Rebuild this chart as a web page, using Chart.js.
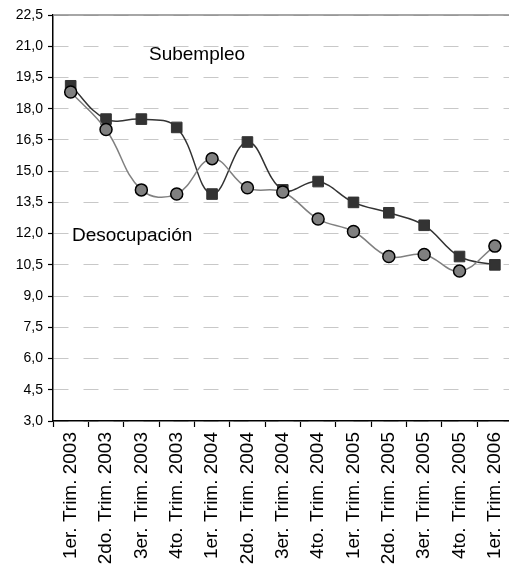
<!DOCTYPE html>
<html lang="es">
<head>
  <meta charset="UTF-8" />
  <title>Subempleo y Desocupación</title>
  <script src="https://cdn.jsdelivr.net/npm/chart.js"></script>
  <style>
    html, body { margin: 0; padding: 0; overflow: hidden; background: #fff; }
    .chart-container { position: relative; width: 523px; height: 573px; }
  </style>
</head>
<body>
  <div class="chart-container">
    <canvas id="empleoChart"></canvas>
  </div>

  <script>
    // datos
    const trimestres = [
      '1er. Trim. 2003', '2do. Trim. 2003', '3er. Trim. 2003', '4to. Trim. 2003',
      '1er. Trim. 2004', '2do. Trim. 2004', '3er. Trim. 2004', '4to. Trim. 2004',
      '1er. Trim. 2005', '2do. Trim. 2005', '3er. Trim. 2005', '4to. Trim. 2005',
      '1er. Trim. 2006'
    ];
    const subempleo = [19.1, 17.5, 17.5, 17.1, 13.9, 16.4, 14.1, 14.5, 13.5, 13.0, 12.4, 10.9, 10.5];
    const desocupacion = [18.8, 17.0, 14.1, 13.9, 15.6, 14.2, 14.0, 12.7, 12.1, 10.9, 11.0, 10.2, 11.4];
    const yTicks = [3.0, 4.5, 6.0, 7.5, 9.0, 10.5, 12.0, 13.5, 15.0, 16.5, 18.0, 19.5, 21.0, 22.5];

    // textos dentro del gráfico y borde superior
    const textosPlugin = {
      id: 'textos',
      afterDraw(chart) {
        const { ctx, chartArea } = chart;
        ctx.save();
        ctx.strokeStyle = '#888';
        ctx.lineWidth = 1.5;
        ctx.beginPath();
        ctx.moveTo(chartArea.left, chartArea.top);
        ctx.lineTo(chartArea.right, chartArea.top);
        ctx.stroke();

        ctx.fillStyle = '#000';
        ctx.font = '19px "Liberation Sans", Arial, sans-serif';
        ctx.textBaseline = 'alphabetic';
        ctx.textAlign = 'left';
        ctx.fillText('Subempleo', chartArea.left + 96, chartArea.top + 45);
        ctx.fillText('Desocupación', chartArea.left + 19, chartArea.top + 226);
        ctx.restore();
      }
    };

    const ctx = document.getElementById('empleoChart').getContext('2d');
    new Chart(ctx, {
      type: 'line',
      data: {
        labels: trimestres,
        datasets: [
          {
            label: 'Desocupación',
            data: desocupacion,
            borderColor: '#808080',
            borderWidth: 1.5,
            backgroundColor: '#808080',
            pointStyle: 'circle',
            pointRadius: 6,
            pointBorderWidth: 1.5,
            pointBorderColor: '#000',
            pointBackgroundColor: '#808080',
            tension: 0.4,
            fill: false
          },
          {
            label: 'Subempleo',
            data: subempleo,
            borderColor: '#333',
            borderWidth: 1.5,
            backgroundColor: '#333',
            pointStyle: 'rect',
            pointRadius: 7.5,
            pointBorderWidth: 1,
            pointBorderColor: '#333',
            pointBackgroundColor: '#333',
            tension: 0.4,
            fill: false
          }
        ]
      },
      options: {
        responsive: true,
        maintainAspectRatio: false,
        animation: false,
        layout: { padding: { top: 15, left: 0, right: 0, bottom: 0 } },
        plugins: {
          legend: { display: false },
          tooltip: { enabled: false }
        },
        scales: {
          x: {
            offset: true,
            grid: {
              offset: true,
              drawOnChartArea: false,
              drawTicks: true,
              tickLength: 6,
              tickColor: '#000',
              tickWidth: 1.2
            },
            border: { color: '#000', width: 1.5 },
            ticks: {
              autoSkip: false,
              maxRotation: 90,
              minRotation: 90,
              padding: 5,
              color: '#000',
              font: { family: '"Liberation Sans", Arial, sans-serif', size: 19 }
            },
            afterFit(scale) { scale.height = 152; }
          },
          y: {
            min: 3,
            max: 22.5,
            afterBuildTicks(scale) {
              scale.ticks = yTicks.map(v => ({ value: v }));
            },
            grid: {
              color: '#c8c8c8',
              lineWidth: 1,
              drawTicks: true,
              tickLength: 5,
              tickColor: '#000',
              tickWidth: 1.2
            },
            border: { color: '#000', width: 1.5, dash: [15, 15] },
            ticks: {
              padding: 5,
              color: '#000',
              font: { family: '"Liberation Sans", Arial, sans-serif', size: 14 },
              callback: value => value.toFixed(1).replace('.', ',')
            },
            afterFit(scale) { scale.width = 53; }
          }
        }
      },
      plugins: [textosPlugin]
    });
  </script>
</body>
</html>
